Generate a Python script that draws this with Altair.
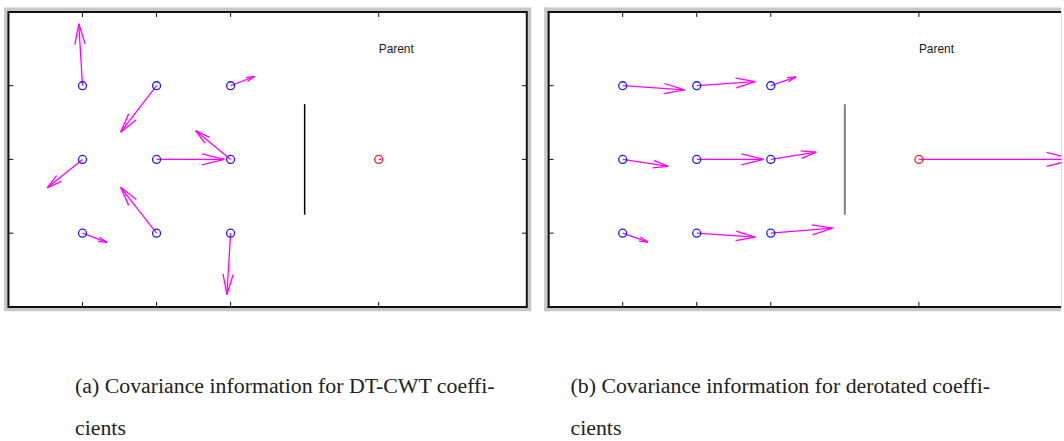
import math
import altair as alt
import pandas as pd

# ---- data ----
cols = [1, 2, 3, 1, 2, 3, 1, 2, 3]
rows = [3, 3, 3, 2, 2, 2, 1, 1, 1]

# panel (a): DT-CWT coefficients (vector components, data units)
u_a = [-0.05, -0.485, 0.323, -0.476, 0.915, -0.471, 0.328, -0.485, -0.05]
v_a = [0.84, -0.63, 0.125, -0.385, 0.0, 0.389, -0.125, 0.622, -0.832]
# panel (b): derotated coefficients
u_b = [0.834, 0.789, 0.341, 0.614, 0.901, 0.614, 0.341, 0.789, 0.834]
v_b = [-0.058, 0.054, 0.121, -0.094, 0.0, 0.098, -0.121, -0.054, 0.067]

parent_pos = [5, 2]
parent_vec_a = [0.03, 0.0]
parent_vec_b = [2.1, 0.0]

x_ticks = [1, 2, 3, 5]
y_ticks = [1, 2, 3]
divider_x = 4
divider_y = [1.25, 2.75]
parent_label = "Parent"
parent_label_pos = [5, 3.5]

caption_a = ["(a) Covariance information for DT-CWT coeffi-", "cients"]
caption_b = ["(b) Covariance information for derotated coeffi-", "cients"]

# ---- layout constants ----
W = 522
WB = 516
H = 297
UNIT = W / 7.0
MAGENTA = "#ff00ff"
GRAY = "#c8c8c8"


def segments(xs, ys, us, vs):
    out = []
    for x, y, u, v in zip(xs, ys, us, vs):
        L = math.hypot(u, v)
        if L == 0:
            continue
        tx, ty = x + u, y + v
        hl = 0.33 * min(L, 1.14)
        hw = 0.25 * hl
        dx, dy = u / L, v / L
        bx, by = tx - hl * dx, ty - hl * dy
        px, py = -dy, dx
        out.append(dict(x=x, y=y, x2=tx, y2=ty))
        out.append(dict(x=tx, y=ty, x2=bx + hw * px, y2=by + hw * py))
        out.append(dict(x=tx, y=ty, x2=bx - hw * px, y2=by - hw * py))
    return pd.DataFrame(out)


one = pd.DataFrame({"k": [0]})


def panel(u, v, pvec, line_color, line_width, caption, width, full):
    xmax = width / UNIT
    xs = alt.Scale(domain=[0, xmax], nice=False, zero=False)
    ys = alt.Scale(domain=[0, 4], nice=False, zero=False)

    segs = segments(cols + [parent_pos[0]], rows + [parent_pos[1]],
                    u + [pvec[0]], v + [pvec[1]])

    arrows = alt.Chart(segs).mark_rule(color=MAGENTA, strokeWidth=1.3, clip=True).encode(
        x=alt.X("x:Q", scale=xs, axis=None),
        y=alt.Y("y:Q", scale=ys, axis=None),
        x2="x2:Q", y2="y2:Q",
    )
    children = pd.DataFrame({"x": cols, "y": rows})
    circ = alt.Chart(children).mark_point(shape="circle", filled=False, size=64,
                                         strokeWidth=1.3, color="#1a1aff", opacity=1).encode(
        x=alt.X("x:Q", scale=xs, axis=None), y=alt.Y("y:Q", scale=ys, axis=None))
    par = pd.DataFrame({"x": [parent_pos[0]], "y": [parent_pos[1]]})
    pcirc = alt.Chart(par).mark_point(shape="circle", filled=False, size=64,
                                      strokeWidth=1.3, color="#ff1a1a", opacity=1).encode(
        x=alt.X("x:Q", scale=xs, axis=None), y=alt.Y("y:Q", scale=ys, axis=None))

    div = alt.Chart(pd.DataFrame({"x": [divider_x], "y": [divider_y[0]], "y2": [divider_y[1]]})).mark_rule(
        color=line_color, strokeWidth=line_width).encode(
        x=alt.X("x:Q", scale=xs, axis=None), y=alt.Y("y:Q", scale=ys, axis=None), y2="y2:Q")

    lab = alt.Chart(pd.DataFrame({"x": [parent_label_pos[0]], "y": [parent_label_pos[1]],
                                  "t": [parent_label]})).mark_text(
        align="left", baseline="middle", font="Liberation Sans", fontSize=12, color="#1a1a1a").encode(
        x=alt.X("x:Q", scale=xs, axis=None), y=alt.Y("y:Q", scale=ys, axis=None), text="t:N")

    xt = pd.DataFrame({"x": x_ticks})
    tick_top = alt.Chart(xt).mark_rule(color="#111", strokeWidth=1).encode(
        x=alt.X("x:Q", scale=xs, axis=None), y=alt.value(0), y2=alt.value(5))
    tick_bot = alt.Chart(xt).mark_rule(color="#111", strokeWidth=1).encode(
        x=alt.X("x:Q", scale=xs, axis=None), y=alt.value(H - 5), y2=alt.value(H))
    yt = pd.DataFrame({"y": y_ticks})
    tick_l = alt.Chart(yt).mark_rule(color="#111", strokeWidth=1).encode(
        y=alt.Y("y:Q", scale=ys, axis=None), x=alt.value(0), x2=alt.value(5))
    layers = [tick_top, tick_bot, tick_l]
    if full:
        tick_r = alt.Chart(yt).mark_rule(color="#111", strokeWidth=1).encode(
            y=alt.Y("y:Q", scale=ys, axis=None), x=alt.value(width - 5), x2=alt.value(width))
        layers.append(tick_r)
        frame_g = alt.Chart(one).mark_rect(fillOpacity=0, stroke=GRAY, strokeWidth=4.5).encode(
            x=alt.value(-2.25), x2=alt.value(width + 2.25), y=alt.value(-2.25), y2=alt.value(H + 2.25))
        frame_b = alt.Chart(one).mark_rect(fillOpacity=0, stroke="#111", strokeWidth=2).encode(
            x=alt.value(0), x2=alt.value(width), y=alt.value(0), y2=alt.value(H))
        frames = [frame_g, frame_b]
    else:
        def r(x, x2, y, y2, c, w):
            return alt.Chart(one).mark_rule(color=c, strokeWidth=w).encode(
                x=alt.value(x), x2=alt.value(x2), y=alt.value(y), y2=alt.value(y2))
        frames = [
            r(-4.5, width, -2.25, -2.25, GRAY, 4.5),
            r(-4.5, width, H + 2.25, H + 2.25, GRAY, 4.5),
            r(-2.25, -2.25, -4.5, H + 4.5, GRAY, 4.5),
            r(-1, width, 0, 0, "#111", 2),
            r(-1, width, H, H, "#111", 2),
            r(0, 0, -1, H + 1, "#111", 2),
        ]

    cap_layers = []
    for i, line in enumerate(caption):
        cap_layers.append(alt.Chart(pd.DataFrame({"t": [line]})).mark_text(
            align="left", baseline="alphabetic", font="Liberation Serif", fontSize=22, color="#222").encode(
            x=alt.value(67 if full else 22), y=alt.value(384 + 42 * i), text="t:N"))

    return alt.layer(*frames, *layers, div, arrows, circ, pcirc, lab, *cap_layers).properties(
        width=width, height=H)


pa = panel(u_a, v_a, parent_vec_a, "#000000", 1.5, caption_a, W, True)
pb = panel(u_b, v_b, parent_vec_b, "#808080", 2, caption_b, WB, False)

chart = alt.hconcat(pa, pb, spacing=9).properties(
    padding={"left": 3.5, "top": 2.5, "right": 0, "bottom": 0}
).configure_view(strokeWidth=0).configure(background="white")

chart.save("out.html", embed_options={"renderer": "svg", "actions": False})
